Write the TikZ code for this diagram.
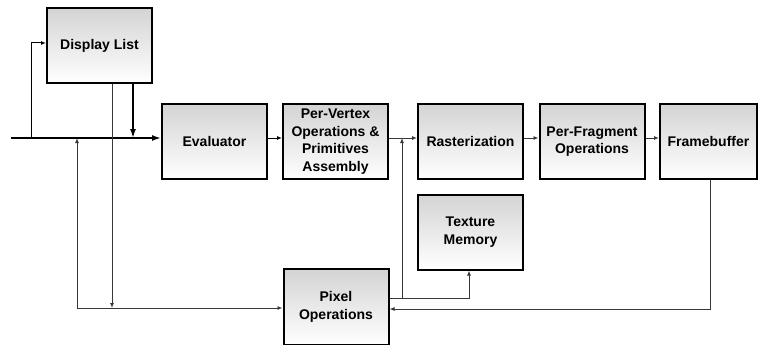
\documentclass[tikz,border=0pt]{standalone}
\usepackage{fontspec}
\setmainfont{Liberation Sans}
\usetikzlibrary{arrows.meta,calc}
\begin{document}
\begin{tikzpicture}[x=1pt,y=-1pt,
  stage/.style={draw=black,line width=2pt,top color=black!17,bottom color=white,
    minimum width=105pt,minimum height=75pt,align=center,inner sep=2pt,
    font=\fontsize{14}{17.7}\selectfont\bfseries},
  wire/.style={draw=black!78,line width=0.9pt,-{Latex[length=5pt,width=4pt]}},
  plain/.style={draw=black!78,line width=0.9pt},
  mainwire/.style={draw=black,line width=1.6pt,-{Latex[length=9pt,width=6pt]}},
  thin/.style={draw=black,line width=1pt,-{Latex[length=5pt,width=4pt]}}]
\useasboundingbox (0,0) rectangle (758,345);

% processing stages
\node[stage] (dl)   at (99.5,45.5)  {Display List};
\node[stage] (ev)   at (214.5,141.5) {Evaluator};
\node[stage] (pv)   at (335.5,141.5) {Per-Vertex\\Operations \&\\Primitives\\Assembly};
\node[stage] (ra)   at (470.5,141.5) {Rasterization};
\node[stage] (pf)   at (592,141.5)   {Per-Fragment\\Operations};
\node[stage,minimum width=97pt] (fb) at (708.5,141.5) {Framebuffer};
\node[stage] (tm)   at (470.5,232)   {Texture\\Memory};
\node[stage,minimum height=76pt] (px) at (336,307) {Pixel\\Operations};

% reference points for the wiring
\coordinate (lvl) at (0,138);
\coordinate (in)  at (11,138);
\coordinate (br)  at (31,138);
\coordinate (lo)  at (77,308);
\coordinate (dd)  at (112,308);
\coordinate (rv)  at (402,138);
\coordinate (ro)  at (402,298);
\coordinate (fbl) at (0,309);

% main input line into the evaluator
\draw[mainwire] (in) -- (ev.west |- lvl);
\draw[thin] (br) |- ([yshift=2.5pt]dl.west);
\draw[mainwire] ([xshift=33.5pt]dl.south) -- ([xshift=33.5pt]dl.south |- lvl);

% display list down to pixel operations
\draw[wire] ([xshift=12.5pt]dl.south) -- (dd);
\draw[wire] (lo) -- (lo |- lvl);
\draw[wire] (lo) -- (px.west |- lo);

% geometry path
\draw[thin] (ev.east |- lvl) -- (pv.west |- lvl);
\draw[wire] (pv.east |- lvl) -- (ra.west |- lvl);
\draw[wire] (ra.east |- lvl) -- (pf.west |- lvl);
\draw[wire] (pf.east |- lvl) -- (fb.west |- lvl);

% pixel operations feeding rasterization and texture memory
\draw[wire] (ro) -- (rv);
\draw[plain] (px.east |- ro) -- (ro);
\draw[wire] (ro) -| ([xshift=-1.5pt]tm.south);

% framebuffer read-back
\draw[wire] ([xshift=1.5pt]fb.south) |- (px.east |- fbl);
\end{tikzpicture}
\end{document}
